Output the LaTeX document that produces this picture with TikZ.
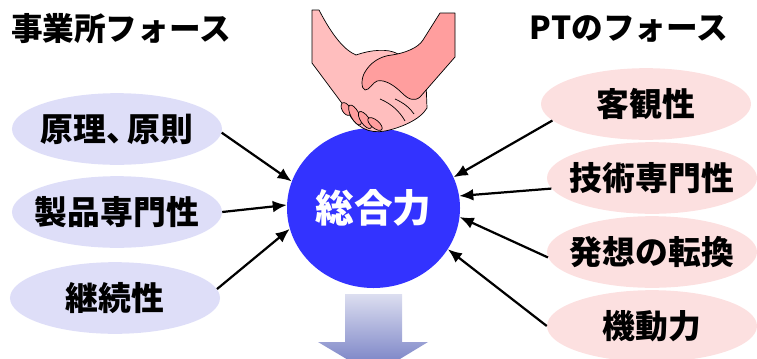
\documentclass[tikz,border=0pt]{standalone}
\usepackage{fontspec}
\setmainfont{Noto Sans CJK JP}
\usepackage{tikz}
\usetikzlibrary{shapes.geometric, arrows.meta, positioning}
\definecolor{azul}{RGB}{51,51,255}
\definecolor{lila}{RGB}{222,222,248}
\definecolor{rosa}{RGB}{252,224,224}
\definecolor{piel}{RGB}{255,190,190}
\definecolor{pieloscura}{RGB}{255,158,158}
\definecolor{flechaarr}{RGB}{220,222,240}
\definecolor{flechaab}{RGB}{108,118,192}
\newcommand{\sinancho}[1]{\makebox[0pt]{#1}}
\tikzstyle{flecha} = [line width=1.9pt,-{Latex[length=12pt,width=10pt]}]
\tikzstyle{elipizq} = [ellipse, fill=lila, minimum width=6.3cm, minimum height=2.15cm, inner sep=0pt, font=\fontsize{28}{30}\selectfont\bfseries]
\tikzstyle{elipder} = [ellipse, fill=rosa, minimum width=6.3cm, minimum height=2.15cm, inner sep=0pt, font=\fontsize{28}{30}\selectfont\bfseries]
\tikzstyle{titulo} = [font=\fontsize{27}{30}\selectfont\bfseries]
\tikzstyle{mano} = [draw=black, line width=0.6pt, line join=round]

\begin{document}
\begin{tikzpicture}[x=0.03cm, y=-0.03cm]
    \useasboundingbox (0,0) rectangle (757,358);

    % Titulos
    \node[titulo] (tizq) at (121,29) {事業所フォース};
    \node[titulo] (tder) at (629,29) {PTのフォース};

    % Elipses izquierda
    \node[elipizq] (l1) at (117,129) {\sinancho{原理、\kern-0.35em 原則}};
    \node[elipizq] (l2) at (117,212) {\sinancho{製品専門性}};
    \node[elipizq] (l3) at (115,298) {\sinancho{継続性}};

    % Elipses derecha
    \node[elipder] (r1) at (646,104) {\sinancho{客観性}};
    \node[elipder] (r2) at (652,178) {\sinancho{技術専門性}};
    \node[elipder] (r3) at (652,252) {\sinancho{発想の転換}};
    \node[elipder] (r4) at (652,326) {\sinancho{機動力}};

    % Centro
    \node[ellipse, fill=azul, minimum width=5.19cm, minimum height=4.8cm, inner sep=0pt,
          text=white, font=\fontsize{33}{36}\selectfont\bfseries] (c) at (373.5,208) {\sinancho{総合力}};

    % Flechas
    \draw[flecha] (l1.-2) -- (c.162);
    \draw[flecha] (l2.east) -- (c.178);
    \draw[flecha] (l3.5) -- (c.194);
    \draw[flecha] (r1.190) -- (c.21);
    \draw[flecha] (r2.186) -- (c.8);
    \draw[flecha] (r3.183) -- (c.-6);
    \draw[flecha] (r4.180) -- (c.-29);

    % Flecha hacia abajo
    \shade[top color=flechaarr, bottom color=flechaab]
        (345,294) -- (402,294) -- (402,342) -- (428,342) -- (373.5,375)
        -- (318,342) -- (345,342) -- cycle;

    % Apreton de manos
    \draw[mano, fill=piel] (312,10) -- (319,10) .. controls (332,35) and (344,50) .. (356,55)
        .. controls (370,50) and (388,48) .. (398,54) -- (426,82) -- (427,108)
        .. controls (420,120) and (400,128) .. (385,131)
        .. controls (370,134) and (355,128) .. (347,110)
        -- (312,63) -- cycle;
    \draw[mano, fill=pieloscura] (440,13) -- (455,13) -- (455,57) -- (420,97)
        .. controls (414,102) and (408,99) .. (402,93)
        .. controls (395,86) and (385,79) .. (377,81)
        .. controls (372,83) and (370,90) .. (365,90)
        .. controls (361,89) and (361,78) .. (365,72)
        .. controls (370,63) and (380,56) .. (392,55)
        .. controls (405,53) and (418,48) .. (423,40) -- cycle;
    \draw[mano] (380,99) .. controls (392,104) and (400,112) .. (405,121);
    \draw[mano] (395,99) .. controls (404,103) and (410,108) .. (414,114);
    \draw[mano, fill=pieloscura, rotate around={-60:(346,109)}] (346,109) ellipse (6pt and 3.4pt);
    \draw[mano, fill=pieloscura, rotate around={-62:(355,115)}] (355,115) ellipse (9.5pt and 3.6pt);
    \draw[mano, fill=pieloscura, rotate around={-55:(365,120)}] (365,120) ellipse (8.5pt and 3.6pt);
    \draw[mano, fill=pieloscura, rotate around={-40:(375,124)}] (375,124) ellipse (7.5pt and 3.4pt);
\end{tikzpicture}
\end{document}
